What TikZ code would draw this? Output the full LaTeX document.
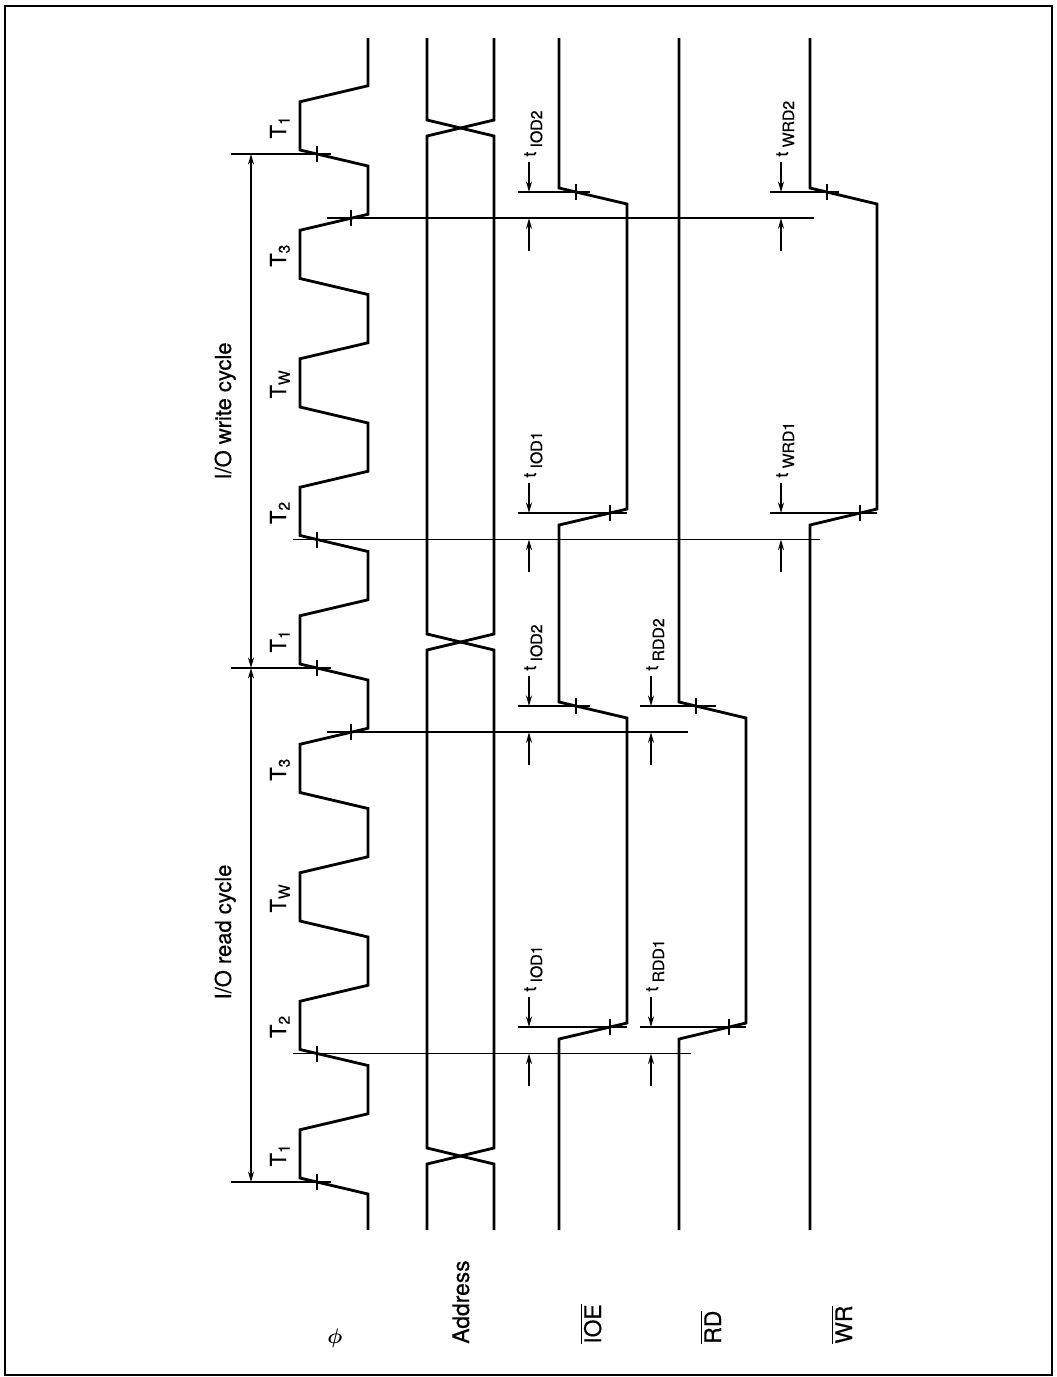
\documentclass[tikz,border=0pt]{standalone}
\usepackage{amsmath}
\usepackage{fontspec}
\setmainfont{TeX Gyre Heros}[FakeBold=0.5]
\usetikzlibrary{arrows.meta,positioning}

\newcommand{\lowact}[1]{$\overline{\mbox{#1}}$}
\newcommand{\tdel}[1]{{\fontsize{10}{10}\selectfont t}\hspace{2.5pt}\raisebox{-3.5pt}{#1}}

\begin{document}
\begin{tikzpicture}[
      x=0.02cm, y=-0.02cm,
      wave/.style={line width=1.6pt},
      refl/.style={line width=1.1pt},
      tck/.style={line width=1pt},
      arr/.style={-{Stealth[length=6pt,width=3.4pt]}, line width=0.9pt},
      dimarr/.style={{Stealth[length=6pt,width=3.4pt]}-{Stealth[length=6pt,width=3.4pt]}, line width=0.9pt},
      sname/.style={rotate=90, anchor=base west, inner sep=0pt, font=\fontsize{13}{13}\selectfont},
      tstate/.style={rotate=90, anchor=base, inner sep=0pt, font=\fontsize{12.5}{12.5}\selectfont},
      dlbl/.style={rotate=90, anchor=base west, inner sep=0pt, font=\fontsize{9}{9}\selectfont},
    ]
    \useasboundingbox (0,0) rectangle (1057,1377);
    \draw[line width=1.6pt] (5,6) rectangle (1052,1375);

    % signal names
    \node[inner sep=0pt, font=\fontsize{12}{12}\selectfont] (nphi) at (335,1338) {$\boldsymbol{\phi}$};
    \node[sname] (naddr) at (469,1344) {Address};
    \node[sname] (nioe)  at (601,1344) {\lowact{IOE}};
    \node[sname] (nrd)   at (721,1344) {\lowact{RD}};
    \node[sname] (nwr)   at (852,1344) {\lowact{WR}};

    % clock
    \draw[wave] (368,1230) \foreach \k in {0,2,...,16}{
        -- (368,{1194-64.25*\k}) -- (300,{1178-64.25*\k})
        -- (300,{1129.75-64.25*\k}) -- (368,{1113.75-64.25*\k})} -- (368,38);

    % address bus
    \draw[wave] (427,1230) -- (427,1164) -- (494,1148) -- (494,650) -- (427,634)
        -- (427,136) -- (494,120) -- (494,38);
    \draw[wave] (494,1230) -- (494,1164) -- (427,1148) -- (427,650) -- (494,634)
        -- (494,136) -- (427,120) -- (427,38);

    % IOE, RD, WR
    \draw[wave] (559,1230) -- (559,1039) -- (627,1023) -- (627,718) -- (559,702)
        -- (559,525) -- (627,509) -- (627,204) -- (559,188) -- (559,38);
    \draw[wave] (679,1230) -- (679,1039) -- (746,1023) -- (746,718) -- (679,702) -- (679,38);
    \draw[wave] (810,1230) -- (810,525) -- (877,509) -- (877,204) -- (810,188) -- (810,38);

    % state boundaries
    \coordinate (rc0) at (251,1182);
    \coordinate (rc1) at (251,668);
    \coordinate (rc2) at (251,154);
    \draw[refl] (231,1182) -- (331,1182);
    \draw[refl] (231,668) -- (331,668);
    \draw[refl] (231,154) -- (331,154);
    \draw[refl] (293,1053.5) -- (691,1053.5);
    \draw[refl] (327,732.25) -- (688,732.25);
    \draw[refl] (293,539.5) -- (820,539.5);
    \draw[refl] (327,218.25) -- (814,218.25);
    \draw[dimarr] (rc0) -- (rc1);
    \draw[dimarr] (rc1) -- (rc2);
    \node[tstate] (rdcyc) at (231,932) {I/O read cycle};
    \node[tstate] (wrcyc) at (231,411) {I/O write cycle};

    % T states
    \node[tstate] (s1)  at (286,1155)   {T\textsubscript{1}};
    \node[tstate] (s2)  at (286,1026.5) {T\textsubscript{2}};
    \node[tstate] (s3)  at (286,898)    {T\textsubscript{W}};
    \node[tstate] (s4)  at (286,769.25) {T\textsubscript{3}};
    \node[tstate] (s5)  at (286,641)    {T\textsubscript{1}};
    \node[tstate] (s6)  at (286,512.5)  {T\textsubscript{2}};
    \node[tstate] (s7)  at (286,384)    {T\textsubscript{W}};
    \node[tstate] (s8)  at (286,255.25) {T\textsubscript{3}};
    \node[tstate] (s9)  at (286,127)    {T\textsubscript{1}};

    % edge marks
    \draw[tck] (317,1174) -- (317,1190);
    \draw[tck] (317,1045.5) -- (317,1061.5);
    \draw[tck] (351,724.25) -- (351,740.25);
    \draw[tck] (317,660) -- (317,676);
    \draw[tck] (317,531.5) -- (317,547.5);
    \draw[tck] (351,210.25) -- (351,226.25);
    \draw[tck] (317,146) -- (317,162);
    \draw[tck] (610,1019) -- (610,1035);
    \draw[tck] (729,1019) -- (729,1035);
    \draw[tck] (576,698) -- (576,714);
    \draw[tck] (696,698) -- (696,714);
    \draw[tck] (610,505) -- (610,521);
    \draw[tck] (860,505) -- (860,521);
    \draw[tck] (576,184) -- (576,200);
    \draw[tck] (827,184) -- (827,200);

    % delay reference lines
    \draw[refl] (518,1027) -- (627,1027);
    \draw[refl] (640,1027) -- (746,1027);
    \draw[refl] (518,706) -- (590,706);
    \draw[refl] (640,706) -- (716,706);
    \draw[refl] (518,513) -- (627,513);
    \draw[refl] (770,513) -- (877,513);
    \draw[refl] (518,192) -- (590,192);
    \draw[refl] (770,192) -- (839,192);

    % delay arrows
    \draw[arr] (529,997) -- (529,1027);
    \draw[arr] (529,1086) -- (529,1053.5);
    \draw[arr] (651,997) -- (651,1027);
    \draw[arr] (651,1086) -- (651,1053.5);
    \draw[arr] (529,676) -- (529,706);
    \draw[arr] (529,765) -- (529,732.25);
    \draw[arr] (651,676) -- (651,706);
    \draw[arr] (651,765) -- (651,732.25);
    \draw[arr] (529,483) -- (529,513);
    \draw[arr] (529,572) -- (529,539.5);
    \draw[arr] (781,483) -- (781,513);
    \draw[arr] (781,572) -- (781,539.5);
    \draw[arr] (529,162) -- (529,192);
    \draw[arr] (529,251) -- (529,218.25);
    \draw[arr] (781,162) -- (781,192);
    \draw[arr] (781,251) -- (781,218.25);

    % delay labels
    \node[dlbl] (d1) at (536,992) {\tdel{IOD1}};
    \node[dlbl] (d2) at (658,992) {\tdel{RDD1}};
    \node[dlbl] (d3) at (536,671) {\tdel{IOD2}};
    \node[dlbl] (d4) at (658,671) {\tdel{RDD2}};
    \node[dlbl] (d5) at (536,478) {\tdel{IOD1}};
    \node[dlbl] (d6) at (788,478) {\tdel{WRD1}};
    \node[dlbl] (d7) at (536,157) {\tdel{IOD2}};
    \node[dlbl] (d8) at (788,157) {\tdel{WRD2}};
  \end{tikzpicture}
\end{document}
